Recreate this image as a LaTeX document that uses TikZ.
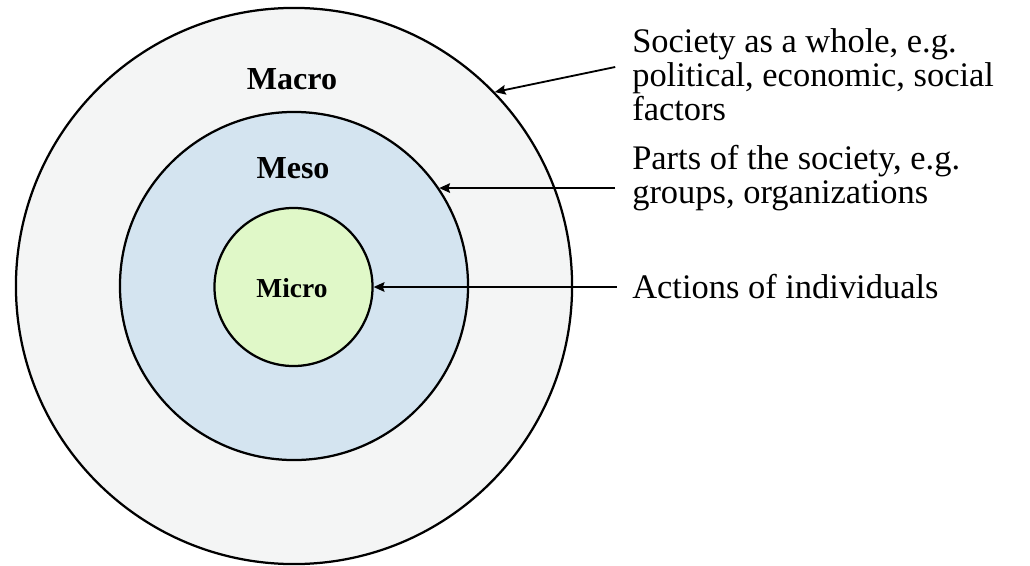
\documentclass[tikz,border=0pt]{standalone}
\usepackage{fontspec}
\setmainfont{Liberation Serif}
\usepackage{xcolor}
\usepackage{tikz}
\usetikzlibrary{arrows.meta, positioning}
\definecolor{macrofill}{HTML}{F4F5F5}
\definecolor{mesofill}{HTML}{D4E4F0}
\definecolor{microfill}{HTML}{E0F8C8}
\tikzset{
    ring/.style={
        circle,
        draw=black,
        line width=1.6pt,
        inner sep=0pt
    },
    ringlabel/.style={
        inner sep=0pt,
        font=\bfseries\fontsize{22.8}{26}\selectfont
    },
    note/.style={
        anchor=west,
        align=left,
        inner sep=0pt,
        font=\fontsize{24.5}{24.2}\selectfont
    },
    pointer/.style={
        draw=black,
        line width=1.3pt,
        -{Stealth[length=0.27cm, width=0.24cm, inset=0.04cm]}
    }
}

\begin{document}
\begin{tikzpicture}[x=0.025cm, y=-0.025cm]
\useasboundingbox[fill=white] (0,0) rectangle (1030,565);

% Rings
\node[ring, fill=macrofill, minimum size=13.9cm] (macro) at (294,286) {};
\node[ring, fill=mesofill, minimum size=8.7cm] (meso) at (294,286) {};
\node[ring, fill=microfill, minimum size=3.95cm] (micro) at (293.5,287) {};

% Ring labels
\node[ringlabel] (macrolbl) at (292,79) {Macro};
\node[ringlabel] (mesolbl) at (293,168) {Meso};
\node[ringlabel, font=\bfseries\fontsize{19.5}{22}\selectfont] (microlbl) at (292,288) {Micro};

% Notes
\node[note] (macronote) at (632,75) {Society as a whole, e.g.\\political, economic, social\\factors};
\node[note] (mesonote) at (632,178) {Parts of the society, e.g.\\groups, organizations};
\node[note] (micronote) at (632,287) {Actions of individuals};

% Pointers
\draw[pointer] ([xshift=-0.42cm, yshift=0.2cm]macronote.west) -- (macro.44.5);
\draw[pointer] ([xshift=-0.42cm]mesonote.west |- meso.34.7) -- (meso.34.7);
\draw[pointer] ([xshift=-0.38cm]micronote.west |- micro.east) -- (micro.east);

\end{tikzpicture}
\end{document}
